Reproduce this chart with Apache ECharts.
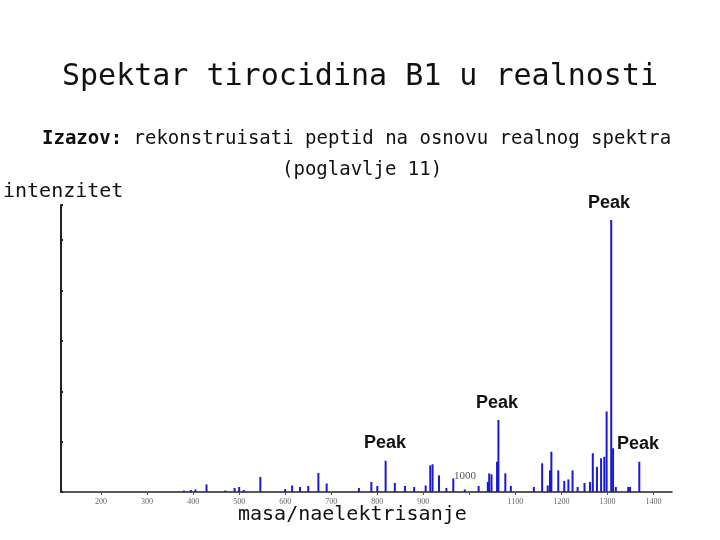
<!DOCTYPE html>
<html><head><meta charset="utf-8">
<script src="https://cdn.jsdelivr.net/npm/echarts@6/dist/echarts.min.js"></script>
<style>html,body{margin:0;padding:0;background:#fff}#c{width:720px;height:540px}</style>
</head><body><div id="c"></div>
<script>
const masses = [380,395,405,429,470,490,500,510,546,600,615,632,650,672,690,760,787,800,818,838,860,880,905,915,920,934,950,965,990,1020,1040,1043,1048,1060,1063,1078,1090,1140,1158,1170,1175,1178,1193,1206,1215,1224,1235,1250,1262,1268,1277,1286,1293,1298,1308,1312,1318,1345,1349,1369];
const intensity = [0.03,0.04,0.05,0.15,0.03,0.08,0.1,0.04,0.3,0.06,0.13,0.1,0.12,0.38,0.17,0.08,0.2,0.12,0.62,0.18,0.12,0.1,0.13,0.53,0.55,0.33,0.08,0.27,0.05,0.12,0.2,0.37,0.35,0.6,1.43,0.37,0.12,0.1,0.57,0.13,0.43,0.8,0.43,0.22,0.25,0.43,0.1,0.18,0.2,0.77,0.5,0.67,0.7,1.6,5.4,0.87,0.1,0.1,0.1,0.6];
const tickLabels = [200,300,400,500,600,700,800,900,1000,1100,1200,1300,1400];
const chart = echarts.init(document.getElementById('c'));
chart.setOption({
  animation:false,
  grid:{left:61,right:48,top:205,bottom:48},
  xAxis:{type:'value',min:113,max:1440,
    axisLine:{lineStyle:{color:'#222',width:1.5}},
    axisTick:{customValues:tickLabels,length:3,lineStyle:{color:'#555'}},
    splitLine:{show:false},
    axisLabel:{customValues:tickLabels,fontSize:8,color:'#666',fontFamily:'Liberation Serif',margin:6,
      formatter:v=>v===1000?'':String(v)}},
  yAxis:{type:'value',min:0,max:5.7,interval:1,
    axisLine:{show:true,lineStyle:{color:'#222',width:2}},
    axisTick:{show:true,length:2,inside:true,lineStyle:{color:'#222',width:2}},
    axisLabel:{show:false},splitLine:{show:false}},
  series:[{type:'bar',barWidth:2,itemStyle:{color:'#1a1ad0'},
    data:masses.map((m,i)=>[m,intensity[i]])}],
  graphic:[
    {type:'text',left:'center',top:62,style:{text:'Spektar tirocidina B1 u realnosti',font:'30px "DejaVu Sans Mono"',fill:'#111'}},
    {type:'text',x:42,y:130,style:{rich:{b:{font:'bold 19px "DejaVu Sans Mono"',fill:'#111'},n:{font:'19px "DejaVu Sans Mono"',fill:'#111'}},text:'{b|Izazov:}{n| rekonstruisati peptid na osnovu realnog spektra}'}},
    {type:'text',x:282,y:161,style:{text:'(poglavlje 11)',font:'19px "DejaVu Sans Mono"',fill:'#111'}},
    {type:'text',x:3,y:182,style:{text:'intenzitet',font:'20px "DejaVu Sans Mono"',fill:'#111'}},
    {type:'text',x:588,y:194,style:{text:'Peak',font:'bold 18px "Liberation Sans"',fill:'#111'}},
    {type:'text',x:476,y:394,style:{text:'Peak',font:'bold 18px "Liberation Sans"',fill:'#111'}},
    {type:'text',x:364,y:434,style:{text:'Peak',font:'bold 18px "Liberation Sans"',fill:'#111'}},
    {type:'text',x:617,y:435,style:{text:'Peak',font:'bold 18px "Liberation Sans"',fill:'#111'}},
    {type:'text',x:454,y:471,style:{text:'1000',font:'11px "Liberation Serif"',fill:'#555'}},
    {type:'text',x:238,y:505,style:{text:'masa/naelektrisanje',font:'20px "DejaVu Sans Mono"',fill:'#111'}}
  ]
});
</script></body></html>
